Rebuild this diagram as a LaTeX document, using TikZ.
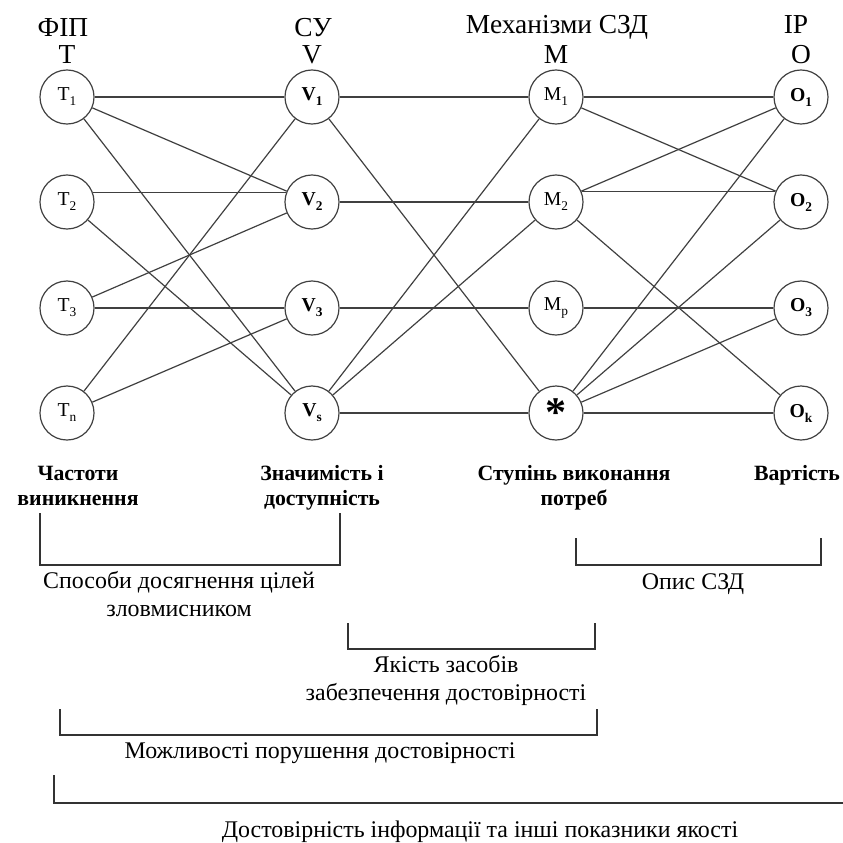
\documentclass[tikz,border=0pt]{standalone}
\usepackage{fontspec}
\setmainfont{Liberation Serif}
\newcommand{\lowsub}[1]{\raisebox{-0.55ex}{\fontsize{9.5}{10}\selectfont #1}}
\begin{document}
\begin{tikzpicture}[x=0.025cm,y=-0.025cm,
	vertex/.style={circle,draw=black!75,line width=0.85pt,minimum size=1.35cm,inner sep=0pt,font=\fontsize{14}{15}\selectfont},
	link/.style={black!75,line width=0.85pt},
	head/.style={anchor=base,font=\fontsize{19.5}{20}\selectfont},
	crit/.style={anchor=base,align=center,font=\fontsize{15.5}{17.7}\selectfont\bfseries},
	note/.style={anchor=base,align=center,font=\fontsize{17}{19.8}\selectfont},
	brace/.style={black!80,line width=0.9pt}]
	\useasboundingbox (0,0) rectangle (843,843);
	\node[head] (hT) at (63,36) {ФІП};
	\node[head] (hV) at (313,36) {СУ};
	\node[head] (hM) at (557,33) {Механізми СЗД};
	\node[head] (hO) at (796,33) {ІР};
	\foreach \n/\x/\s in {t/67/T,v/312/V,m/556/M,o/801/O}{
		\node[head] (\n0) at (\x,63) {\s};
	}
	\foreach \i\y in {1/97,2/202,3/308,n/413}{
		\node[vertex] (t\i) at (67,\y) {T\lowsub{\i}};
	}
	\foreach \i\y in {1/97,2/202,3/308,s/413}{
		\node[vertex] (v\i) at (312,\y) {\textbf{V\lowsub{\i}}};
	}
	\foreach \i\y in {1/97,2/202,p/308}{
		\node[vertex] (m\i) at (556,\y) {M\lowsub{\i}};
	}
	\node[vertex] (ms) at (556,413) {\fontsize{30}{30}\selectfont\bfseries\raisebox{-0.32em}{*}};
	\foreach \i\y in {1/97,2/202,3/308,k/413}{
		\node[vertex] (o\i) at (801,\y) {\textbf{O\lowsub{\i}}};
	}
	\foreach \a\b in {t1/v1,t1/v2,t1/vs,t2/vs,t3/v2,t3/v3,tn/v1,tn/v3,
		v1/m1,v1/ms,v2/m2,v3/mp,vs/m1,vs/m2,vs/ms,
		m1/o1,m1/o2,m2/o1,m2/ok,mp/o3,ms/o1,ms/o2,ms/o3,ms/ok}{
		\draw[link] (\a) -- (\b);
	}
	\draw[link] (t2.20) -- (v2.160);
	\draw[link] (m2.22) -- (o2.158);
	\node[crit] (c1) at (78,505) {Частоти\\виникнення};
	\node[crit] (c2) at (322,505) {Значимість і\\доступність};
	\node[crit] (c3) at (574,505) {Ступінь виконання\\потреб};
	\node[crit] (c4) at (797,480) {Вартість};
	\draw[brace] (40,513) |- (340,565) -- (340,513);
	\node[note] (b1) at (179,616) {Способи досягнення цілей\\зловмисником};
	\draw[brace] (576,538) |- (821,565) -- (821,538);
	\node[note] (b2) at (693,589) {Опис СЗД};
	\draw[brace] (348,623) |- (595,649) -- (595,623);
	\node[note] (b3) at (446,700) {Якість засобів\\забезпечення достовірності};
	\draw[brace] (60,709) |- (597,735) -- (597,709);
	\node[note] (b4) at (320,758) {Можливості порушення достовірності};
	\draw[brace] (54,775) |- (843,803);
	\node[note] (b5) at (480,837) {Достовірність інформації та інші показники якості};
\end{tikzpicture}
\end{document}
